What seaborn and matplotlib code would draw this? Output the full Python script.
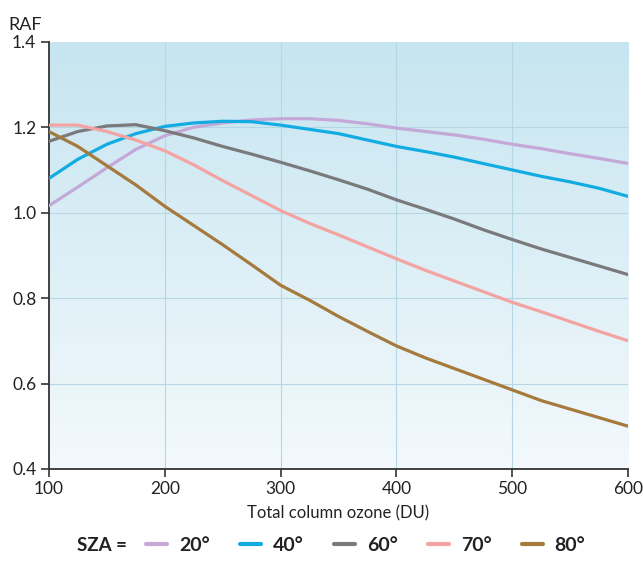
import numpy as np
import pandas as pd
import matplotlib
matplotlib.use("Agg")
import matplotlib.pyplot as plt
import seaborn as sns
from matplotlib.lines import Line2D
from matplotlib.colors import LinearSegmentedColormap

ozone = [100, 125, 150, 175, 200, 225, 250, 275, 300, 325, 350, 375, 400,
         425, 450, 475, 500, 525, 550, 575, 600]
raf_20 = [1.016, 1.06, 1.105, 1.148, 1.18, 1.20, 1.21, 1.217, 1.22, 1.22, 1.216,
          1.208, 1.198, 1.19, 1.182, 1.172, 1.16, 1.15, 1.138, 1.127, 1.115]
raf_40 = [1.08, 1.125, 1.16, 1.185, 1.202, 1.21, 1.214, 1.213, 1.205, 1.195, 1.185,
          1.17, 1.155, 1.143, 1.13, 1.115, 1.10, 1.085, 1.072, 1.057, 1.038]
raf_60 = [1.167, 1.19, 1.203, 1.206, 1.192, 1.175, 1.155, 1.137, 1.118, 1.098, 1.077,
          1.055, 1.03, 1.008, 0.985, 0.96, 0.937, 0.915, 0.895, 0.875, 0.855]
raf_70 = [1.205, 1.205, 1.19, 1.17, 1.145, 1.112, 1.075, 1.04, 1.005, 0.975, 0.948,
          0.92, 0.892, 0.865, 0.84, 0.815, 0.79, 0.768, 0.745, 0.722, 0.70]
raf_80 = [1.19, 1.155, 1.11, 1.065, 1.015, 0.97, 0.925, 0.878, 0.83, 0.795, 0.757,
          0.722, 0.688, 0.66, 0.635, 0.61, 0.585, 0.56, 0.54, 0.52, 0.50]
sza_labels = ["20°", "40°", "60°", "70°", "80°"]
x_ticks = [100, 200, 300, 400, 500, 600]
y_ticks = [0.4, 0.6, 0.8, 1.0, 1.2, 1.4]

colors = ["#c4a8d8", "#12ace3", "#7a7a7c", "#f4a3a3", "#a57a3c"]

series = [raf_20, raf_40, raf_60, raf_70, raf_80]
df = pd.concat([pd.DataFrame({"ozone": ozone, "RAF": s, "SZA": lab})
                for s, lab in zip(series, sza_labels)], ignore_index=True)

sns.set_theme(style="white")
plt.rcParams["font.family"] = ["Lato", "DejaVu Sans"]

fig = plt.figure(figsize=(6.43, 5.65), dpi=100)
ax = fig.add_axes([0.076, 0.17, 0.901, 0.756])

grad = np.linspace(0, 1, 256).reshape(-1, 1)
cmap = LinearSegmentedColormap.from_list("bg", ["#f3f9fc", "#c6e5f0"])
ax.imshow(grad, extent=[100, 600, 0.4, 1.4], origin="lower", aspect="auto",
          cmap=cmap, zorder=0)

for xv in x_ticks[1:-1]:
    ax.axvline(xv, color="#b5d7e4", lw=0.8, zorder=1)
for yv in y_ticks[1:-1]:
    ax.axhline(yv, color="#b5d7e4", lw=0.8, zorder=1)

sns.lineplot(data=df, x="ozone", y="RAF", hue="SZA", palette=colors,
             linewidth=2.3, ax=ax, legend=False, zorder=3)

ax.set_xlim(100, 600)
ax.set_ylim(0.4, 1.4)
ax.set_xticks(x_ticks)
ax.set_yticks(y_ticks)
ax.set_yticklabels([f"{v:.1f}" for v in y_ticks])
ax.tick_params(axis="both", direction="out", length=6, width=1.2, color="#333333",
               labelsize=12.5, labelcolor="#222222", left=True, bottom=True, pad=3)
for side in ["top", "right"]:
    ax.spines[side].set_visible(False)
for side in ["left", "bottom"]:
    ax.spines[side].set_color("#333333")
    ax.spines[side].set_linewidth(1.3)
ax.set_xlabel("Total column ozone (DU)", fontsize=12, color="#222222", labelpad=6)
ax.set_ylabel("")
fig.text(0.013, 0.955, "RAF", fontsize=13, color="#222222", va="center", ha="left")

fig.text(0.12, 0.035, "SZA =", fontsize=13.5, fontweight="bold", color="#222222",
         va="center", ha="left")
handles = [Line2D([0], [0], color=c, lw=3) for c in colors]
leg = fig.legend(handles, sza_labels, loc="center left", bbox_to_anchor=(0.2, 0.035),
                 ncol=5, frameon=False, handlelength=1.1, handletextpad=0.6,
                 columnspacing=1.55, prop={"size": 14, "weight": "bold"})
for t in leg.get_texts():
    t.set_color("#222222")

fig.savefig("out.png", dpi=100)
